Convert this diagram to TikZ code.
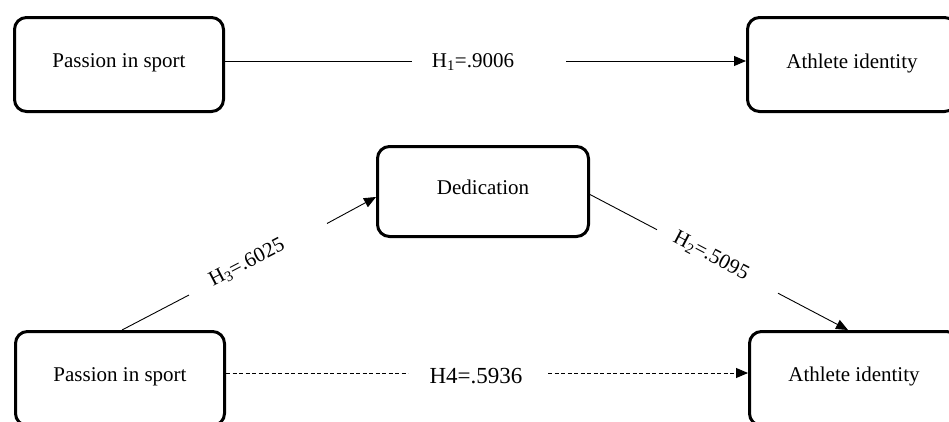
\documentclass[tikz,border=0pt]{standalone}
\usepackage{fontspec}
\setmainfont{Liberation Serif}
\usetikzlibrary{arrows.meta,calc}
\begin{document}
\begin{tikzpicture}[x=1pt,y=-1pt,
  box/.style={draw, line width=3pt, rounded corners=12pt, minimum width=209pt, minimum height=94pt, inner sep=0pt, font=\fontsize{21}{25}\selectfont},
  conn/.style={line width=0.9pt},
  arr/.style={line width=0.9pt, -{Triangle[length=12pt,width=10pt]}},
  lab/.style={font=\fontsize{21}{25}\selectfont, inner sep=0pt},
  dashfour/.style={dash pattern=on 4pt off 2.5pt}]
\useasboundingbox (0,0) rectangle (949,421);
\clip (0,0) rectangle (949,421);
% nodes
\node[box] (p1) at (119,64.5) {\raisebox{7.5pt}{Passion in sport}};
\node[box] (a1) at (852,64.5) {\raisebox{7.5pt}{Athlete identity}};
\node[box, minimum width=211pt, minimum height=90pt] (d) at (483,191.5) {\raisebox{8.5pt}{Dedication}};
\node[box] (p2) at (120,378.5) {\raisebox{8.5pt}{Passion in sport}};
\node[box] (a2) at (854,378.5) {\raisebox{8.5pt}{Athlete identity}};
% H1
\coordinate (g1a) at (412,61);
\coordinate (g1b) at (566,61);
\draw[conn] (p1.east |- g1a) -- (g1a);
\draw[arr] (g1b) -- (a1.west |- g1b);
\node[lab] (h1) at (473,62) {H\textsubscript{1}=.9006};
% H4
\coordinate (g4a) at (408,373);
\coordinate (g4b) at (548,373);
\draw[conn, dashfour] (p2.east |- g4a) -- (g4a);
\draw[arr, dashfour] (g4b) -- (a2.west |- g4b);
\node[lab, font=\fontsize{23}{27}\selectfont] (h4) at (476,376) {H4=.5936};
% H3
\coordinate (g3a) at (189,295);
\coordinate (g3b) at (327,223.5);
\draw[conn] ([xshift=2pt]p2.north) -- (g3a);
\draw[arr] (g3b) -- ([yshift=-5.5pt]d.west);
\node[lab, rotate=27.5] (h3) at (247,263) {H\textsubscript{3}=.6025};
% H2
\coordinate (g2a) at (657,229.7);
\coordinate (g2b) at (778,293.2);
\draw[conn] ([yshift=-3pt]d.east) -- (g2a);
\draw[arr] (g2b) -- ([xshift=-6pt]a2.north);
\node[lab, rotate=-27.7] (h2) at (711,256) {H\textsubscript{2}=.5095};
\end{tikzpicture}
\end{document}
